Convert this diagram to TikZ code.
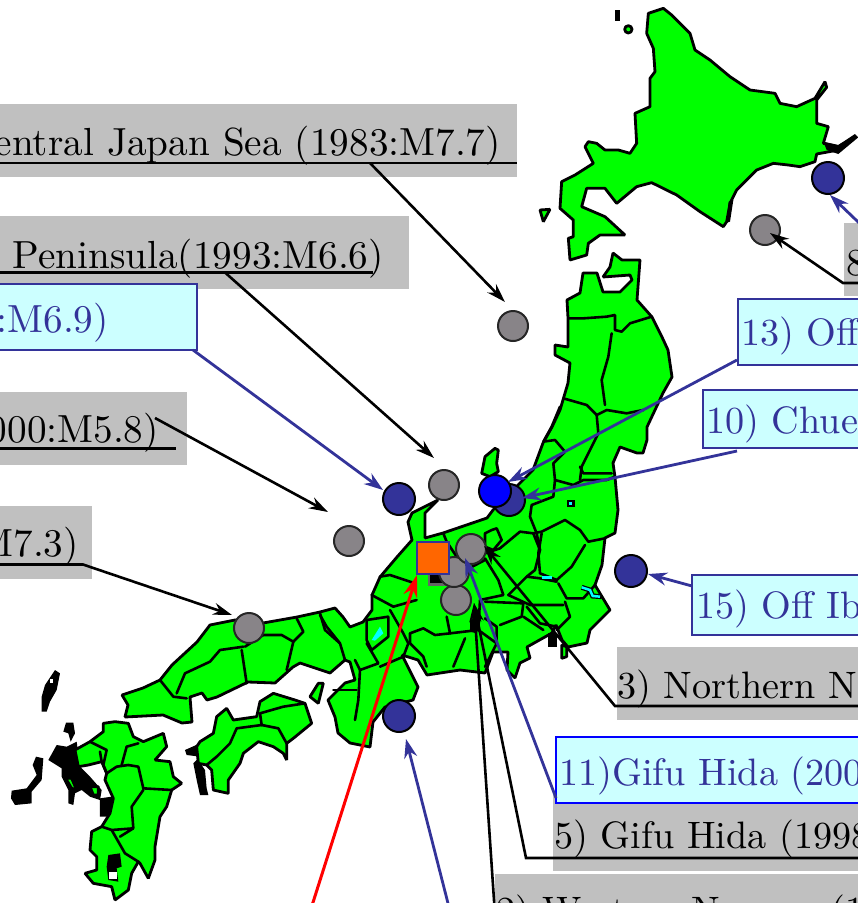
\documentclass[tikz,border=0pt]{standalone}
\usetikzlibrary{arrows.meta}
\definecolor{mapgreen}{HTML}{00FF00}
\definecolor{navy}{HTML}{333399}
\definecolor{paleC}{HTML}{CCFFFF}
\definecolor{boxgray}{HTML}{C0C0C0}
\definecolor{dotgray}{HTML}{888488}
\definecolor{lake}{HTML}{00FFFF}
\definecolor{orangeQ}{HTML}{FF6600}
\newcommand\lab[1]{\scalebox{3.92}{\fontsize{10}{12}\selectfont #1}}
\newcommand\labr[1]{\scalebox{3.82}{\fontsize{10}{12}\selectfont #1}}
\newcommand\pg[1]{\draw[pref] plot coordinates {#1} -- cycle;}
\newcommand\bk[1]{\fill[black] plot coordinates {#1} -- cycle;}
\newcommand\bd[1]{\draw[bord] plot coordinates {#1};}
\tikzset{
  pref/.style={fill=mapgreen,draw=black,line width=2.8pt,line join=bevel},
  bord/.style={draw=black,line width=2.6pt,line join=bevel,line cap=round},
  graydot/.style={circle,fill=dotgray,draw=black!85,line width=2pt,minimum size=30pt,inner sep=0pt},
  navydot/.style={circle,fill=navy,draw=black,line width=2pt,minimum size=32pt,inner sep=0pt},
  blk/.style={draw=black,line width=2.6pt,line join=miter,-{Stealth[length=19pt,width=12pt]}},
  nvy/.style={draw=navy,line width=2.8pt,-{Stealth[length=19pt,width=13pt]}},
  rule/.style={draw=black,line width=2.6pt},
  tagL/.style={anchor=base east,inner sep=0pt},
  tagR/.style={anchor=base west,inner sep=0pt},
  graybg/.style={fill=boxgray},
  cyanbg/.style={draw=navy,fill=paleC,line width=2pt},
}
\begin{document}
\begin{tikzpicture}[x=1pt,y=-1pt]
\useasboundingbox (0,0) rectangle (858,903);
\clip (0,0) rectangle (858,903);
% ---------- Hokkaido
\begin{scope}[shift={(530,0)},scale=0.33333]
\pg{(400,25)(425,45)(480,100)(495,150)(540,180)(600,230)(660,270)(735,280)(750,310)(800,320)(855,295)(885,245)(890,262)(860,300)(860,370)(895,380)(880,430)(925,440)(975,410)(925,450)(860,462)(855,485)(810,500)(775,495)(730,490)(680,510)(620,570)(600,610)(590,665)(580,680)(510,635)(440,585)(365,548)(320,560)(260,610)(225,565)(170,565)(155,620)(225,650)(285,705)(210,705)(175,730)(170,765)(120,780)(115,715)(130,710)(130,660)(90,625)(95,545)(135,525)(190,490)(165,440)(175,425)(200,430)(225,450)(265,450)(300,460)(320,430)(315,340)(360,320)(360,235)(375,215)(370,145)(350,100)(355,40)}
\bk{(880,425)(925,435)(975,402)(985,412)(925,462)(890,450)}
\bk{(596,605)(610,600)(600,665)(590,668)}
\draw[black,line width=5pt] (262,30)--(262,62);
\draw[pref] (295,88) circle (11);
\pg{(30,630)(60,628)(40,665)}
\end{scope}
% ---------- Honshu silhouette
\pg{(613,253)(622,260)(640,260)(637,300)(652,317)(662,337)(668,350)(672,377)(663,393)(647,427)(647,440)(643,453)(637,453)(620,447)(613,463)(615,477)(618,510)(615,533)(605,538)(602,565)(595,585)(610,610)(590,630)(587,643)(568,647)(562,640)(556,625)(552,633)(527,647)(530,658)(520,663)(515,678)(507,670)(508,652)(493,652)(485,673)(460,670)(427,675)(418,660)(402,655)(418,687)(413,700)(385,707)(373,722)(370,747)(350,743)(338,733)(335,717)(328,700)(345,683)(355,680)(350,662)(345,660)(330,673)(300,663)(293,667)(275,683)(248,682)(217,697)(207,700)(202,693)(190,697)(192,722)(182,723)(163,715)(125,717)(128,705)(122,695)(143,688)(160,680)(172,665)(197,642)(210,625)(235,620)(263,623)(297,617)(320,612)(335,608)(343,617)(350,627)(363,622)(372,610)(372,595)(380,577)(397,557)(412,540)(408,522)(412,513)(438,500)(425,513)(425,538)(443,533)(487,518)(493,510)(513,490)(533,470)(543,443)(552,427)(560,410)(568,383)(570,363)(555,355)(555,345)(568,347)(568,318)(567,300)(580,293)(583,273)(597,273)(603,292)(620,292)(632,280)(630,275)(603,277)(610,267)}
% ---------- Tohoku borders
\begin{scope}[shift={(440,250)},scale=0.33333]
\bd{(385,205)(430,205)(500,200)(525,195)(525,240)(545,245)(570,220)(635,200)}
\bd{(515,250)(505,320)(485,390)(495,465)}
\bd{(370,445)(440,465)(470,495)(500,480)(560,490)(610,480)}
\bd{(470,495)(475,550)(450,600)(425,650)(420,690)}
\bd{(360,470)(335,530)(310,575)(345,570)(375,605)(340,640)(345,690)}
\bd{(345,690)(400,705)(430,690)(500,690)(525,680)}
\bd{(420,650)(430,670)(515,670)}
\bd{(345,690)(340,740)(275,765)(270,800)(290,850)(300,900)}
\pg{(165,595)(175,600)(170,640)(175,665)(150,680)(125,670)(135,620)}
\fill[black] (380,750) rectangle (405,772);
\fill[lake] (388,756) rectangle (397,766);
\end{scope}
% ---------- Central borders
\begin{scope}[shift={(300,470)},scale=0.33333]
\bd{(700,190)(725,185)(795,150)(840,180)(865,215)(915,205)}
\bd{(555,250)(600,235)(660,185)(700,190)}
\bd{(575,180)(590,175)(605,210)(580,240)(555,230)(555,190)(575,180)}
\bd{(725,190)(715,250)(720,310)(770,330)(815,290)(855,225)}
\bd{(700,190)(720,240)(705,300)(680,320)(625,375)}
\bd{(680,320)(720,325)(770,335)}
\bd{(775,340)(800,385)(850,385)(885,345)}
\bd{(625,375)(690,405)(790,405)}
\bd{(795,395)(810,440)(770,480)}
\bd{(680,410)(720,460)(770,470)}
\bd{(555,395)(670,400)(665,440)(600,465)}
\bd{(555,265)(595,330)(610,375)(540,390)(535,480)}
\bd{(470,260)(440,330)(555,270)}
\bd{(430,190)(440,215)(470,260)}
\bd{(555,445)(590,470)(590,520)(555,590)}
\bd{(450,490)(535,480)(590,520)}
\bd{(495,505)(460,590)}
\bd{(240,320)(270,315)(345,340)}
\bd{(330,490)(370,475)(405,495)(450,490)}
\bd{(330,490)(330,520)(370,560)(380,590)}
\bd{(215,375)(280,410)(350,390)}
\bd{(270,420)(310,490)(325,520)(310,560)(240,590)}
\bd{(200,450)(265,440)(265,500)(215,540)(200,510)(200,450)}
\bd{(60,435)(80,470)(120,520)(135,570)}
\bd{(200,520)(235,580)(180,600)}
\bd{(165,570)(180,600)(175,690)(165,750)}
\bd{(100,660)(170,660)}
\bd{(670,440)(730,480)}
\bd{(440,440)(450,490)}
\fill[lake] (240,470)--(250,490)--(225,512)--(215,510)--cycle;
\pg{(55,640)(70,640)(55,700)(30,680)}
\pg{(785,525)(800,530)(800,560)(785,565)}
\bk{(745,490)(770,490)(770,530)(745,530)}
\bk{(510,450)(545,440)(530,490)(510,485)}
\fill[lake] (725,318) rectangle (755,327);
\draw[draw=black,line width=5pt] (845,352)--(870,360)--(878,378)--(905,380);
\draw[draw=lake,line width=2.5pt] (845,352)--(870,360)--(878,378)--(900,380);
\end{scope}
% ---------- Chugoku, Shikoku, Kyushu
\begin{scope}[shift={(0,590)},scale=0.33333]
\bd{(480,270)(520,320)(560,325)}
\bd{(530,310)(555,250)(630,215)(660,180)(730,170)}
\bd{(725,180)(740,280)}
\bd{(735,170)(790,135)(845,135)(880,155)}
\bd{(880,155)(860,240)}
\bd{(880,155)(910,125)(890,85)}
\bd{(960,70)(975,120)(1020,160)}
% Shikoku
\bk{(555,480)(600,460)(595,510)(615,540)(620,595)(625,615)(600,615)(590,570)(580,520)(600,500)(560,495)}
\pg{(590,470)(600,455)(640,430)(650,380)(680,355)(700,390)(770,380)(780,335)(820,310)(885,330)(915,340)(935,400)(880,445)(860,460)(860,510)(850,490)(820,470)(775,455)(730,490)(720,520)(685,570)(685,610)(640,600)(635,540)(620,525)(595,520)}
\bd{(620,525)(650,500)(690,460)(710,415)(785,405)}
\bd{(780,370)(850,350)(915,340)}
\bd{(785,405)(835,415)(860,460)}
\bd{(780,370)(785,405)}
% islands
\bk{(165,240)(180,250)(170,300)(150,335)(140,365)(125,365)(125,320)(135,285)}
\fill[white] (150,268) rectangle (158,280);
\bk{(198,398)(220,398)(225,430)(212,455)(205,430)(190,425)}
\bk{(108,500)(130,505)(125,570)(95,605)(95,640)(45,645)(33,625)(35,602)(80,595)(110,555)(98,525)}
% Nagasaki black coast
\bk{(145,510)(170,465)(200,470)(230,455)(240,530)(270,560)(305,600)(300,630)(270,620)(245,600)(225,610)(220,645)(205,640)(205,600)(185,560)(185,535)}
\pg{(197,565)(215,565)(230,600)(215,595)}
\pg{(270,590)(295,590)(295,615)(280,615)}
\bk{(300,625)(335,620)(340,650)(325,680)(300,680)}
% Kyushu
\pg{(225,480)(270,455)(310,425)(310,400)(345,395)(385,400)(400,440)(430,455)(490,430)(500,470)(465,510)(510,515)(520,560)(545,580)(515,600)(500,650)(480,680)(465,770)(465,810)(445,865)(420,820)(415,815)(395,850)(385,900)(345,930)(335,890)(280,880)(255,850)(290,840)(290,800)(270,780)(275,725)(305,710)(330,670)(340,625)(315,570)(320,550)(305,515)(265,525)(235,530)}
\bd{(300,485)(305,515)}
\bd{(270,455)(320,480)(310,525)(320,550)(350,530)(385,525)}
\bd{(415,460)(380,470)(365,525)}
\bd{(385,525)(415,530)(430,595)}
\bd{(430,595)(515,600)}
\bd{(430,600)(395,650)(400,715)}
\bd{(305,710)(335,720)(400,715)(360,740)}
\bd{(335,720)(375,790)(415,815)}
\bk{(325,795)(360,790)(365,830)(350,835)(355,875)(325,870)(320,830)}
\fill[white] (328,845) rectangle (350,868);
\end{scope}
% ---------- under-square mark
\fill[black!60] (428,574) rectangle (447,586);
\fill[black] (430,574) rectangle (444,583);
% ---------- event markers
\node[graydot] (g1) at (513,326) {};
\node[graydot] (g2) at (444,485) {};
\node[graydot] (g3) at (349,541) {};
\node[graydot] (g4) at (249,628) {};
\node[graydot] (g7) at (456,600) {};
\node[graydot] (g6) at (454,572) {};
\node[graydot] (g5) at (471,549) {};
\node[graydot] (g8) at (765,230) {};
\node[navydot] (b1) at (399,499) {};
\node[navydot] (b2) at (509,500) {};
\node[navydot] (b3) at (399,716) {};
\node[navydot] (b4) at (631,571) {};
\node[navydot] (b5) at (828,178) {};
\node[navydot,fill=blue] (b6) at (495,491) {};
\node[draw=navy,fill=orangeQ,line width=2pt,minimum size=32pt,inner sep=0pt] (sq) at (433,558) {};
% ---------- gray label panels
\fill[graybg] (-5,104) rectangle (517,177);
\fill[graybg] (-5,216) rectangle (409,289);
\fill[graybg] (-5,392) rectangle (187,465);
\fill[graybg] (-5,506) rectangle (92,579);
\fill[graybg] (844,223) rectangle (865,296);
\fill[graybg] (617,647) rectangle (865,720);
\fill[graybg] (553,795) rectangle (865,871);
\fill[graybg] (495,874) rectangle (865,910);
% ---------- cyan label panels
\draw[cyanbg] (-5,284) rectangle (197,350);
\draw[cyanbg] (738,299) rectangle (865,365);
\draw[cyanbg] (703,390) rectangle (865,448);
\draw[cyanbg] (692,575) rectangle (865,635);
\draw[cyanbg,draw=blue] (556,737) rectangle (865,803);
% ---------- texts
\node[tagL] (tL1) at (501,155) {\lab{Central Japan Sea (1983:M7.7)}};
\node[tagL] (tL2) at (384,268) {\lab{Noto Peninsula(1993:M6.6)}};
\node[tagL,text=navy] (tC1) at (109,332) {\lab{:M6.9)}};
\node[tagL] (tL3) at (159,442) {\lab{000:M5.8)}};
\node[tagL] (tL4) at (79,556) {\lab{M7.3)}};
\node[tagR] (tL5) at (846,275) {\labr{8}};
\node[tagR,text=navy] (tC2) at (741,345) {\labr{13) Off}};
\node[tagR,text=navy] (tC3) at (706,433) {\labr{10) Chue}};
\node[tagR,text=navy] (tC4) at (696,618) {\labr{15) Off Ib}};
\node[tagR] (tL6) at (617,698) {\labr{3) Northern N}};
\node[tagR,text=navy] (tC5) at (559,785) {\labr{11)Gifu Hida (200}};
\node[tagR] (tL7) at (554,848) {\labr{5) Gifu Hida (1998}};
\node[tagR] (tL8) at (496,923) {\labr{2) Western Nagano (1}};
% ---------- connector ends
\coordinate (a1) at (370,163); \coordinate (p1) at (505,302);
\coordinate (a2) at (225,272.5); \coordinate (p2) at (434,458);
\coordinate (a3) at (193,350); \coordinate (p3) at (383,490);
\coordinate (a4) at (155,418); \coordinate (p4) at (328,512);
\coordinate (a5) at (83,564.5); \coordinate (p5) at (232,615);
\coordinate (a6) at (843,283); \coordinate (p6) at (770,233);
\coordinate (a7) at (880,243); \coordinate (p7) at (830,195);
\coordinate (a8) at (737,360); \coordinate (p8) at (508,482);
\coordinate (a9) at (737,451); \coordinate (p9) at (522,498);
\coordinate (a10) at (692,586); \coordinate (p10) at (648,574);
\coordinate (a11) at (615,706); \coordinate (p11) at (484,546);
\coordinate (a12) at (556,798); \coordinate (p12) at (465,558);
\coordinate (a13) at (526,858); \coordinate (p13) at (474,603);
\coordinate (a14) at (495,915); \coordinate (p14) at (474,603);
\coordinate (a15) at (451,915); \coordinate (p15) at (406,739);
\coordinate (a16) at (309,915); \coordinate (p16) at (417,575);
% ---------- underlines and connectors
\draw[rule] (-5,163) -- (517,163);
\draw[rule] (-5,272.5) -- (373,272.5);
\draw[rule] (-5,448.5) -- (176,448.5);
\draw[blk] (-5,564.5) -- (a5) -- (p5);
\draw[blk] (865,283) -- (a6) -- (p6);
\draw[blk] (865,706) -- (a11) -- (p11);
\draw[blk] (865,858) -- (a13) -- (p13);
\draw[blk] (a1) -- (p1);
\draw[blk] (a2) -- (p2);
\draw[blk] (a4) -- (p4);
\draw[blk] (a14) -- (p14);
\draw[nvy] (a3) -- (p3);
\draw[nvy] (a7) -- (p7);
\draw[nvy] (a8) -- (p8);
\draw[nvy] (a9) -- (p9);
\draw[nvy] (a10) -- (p10);
\draw[nvy] (a12) -- (p12);
\draw[nvy] (a15) -- (p15);
\draw[draw=red,line width=3pt,-{Stealth[length=22pt,width=14pt]}] (a16) -- (p16);
\end{tikzpicture}
\end{document}
